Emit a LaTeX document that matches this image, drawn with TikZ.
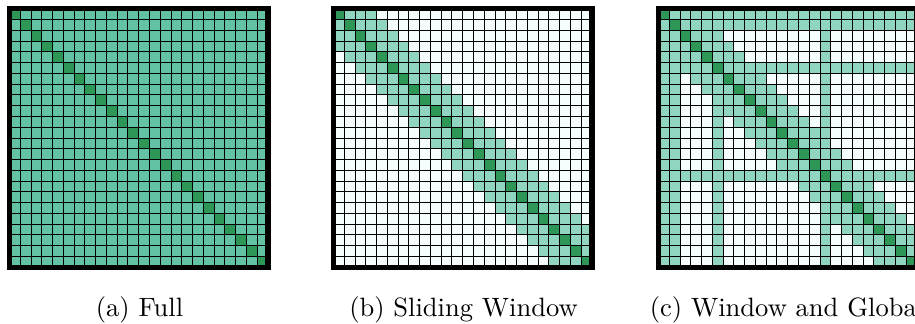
\documentclass[tikz,border=0pt]{standalone}
\usepackage{xcolor}
\usetikzlibrary{positioning}
\definecolor{fullc}{RGB}{99,194,163}
\definecolor{diagc}{RGB}{46,150,86}
\definecolor{winc}{RGB}{143,213,192}
\definecolor{emptyc}{RGB}{245,253,253}
\newcommand{\cellsz}{10.77}
\newcommand{\sidelen}{258.5}

\begin{document}
\begin{tikzpicture}[x=0.377pt,y=-0.377pt,
  cellgrid/.style={line width=0.36pt,black},
  frameline/.style={line width=1.9pt,black},
  subcap/.style={anchor=base,inner sep=0pt}]
\useasboundingbox (0,0) rectangle (915,324);
% (a) full attention
\begin{scope}[shift={(9.5,8.8)}]
\fill[fullc] (0,0) rectangle (\sidelen,\sidelen);
\foreach \r in {0,...,23}
  \fill[diagc] (\r*\cellsz,\r*\cellsz) rectangle ++(\cellsz,\cellsz);
\foreach \k in {1,...,23} {
  \draw[cellgrid] (\k*\cellsz,0) -- (\k*\cellsz,\sidelen);
  \draw[cellgrid] (0,\k*\cellsz) -- (\sidelen,\k*\cellsz);
}
\draw[frameline] (0,0) rectangle (\sidelen,\sidelen);
\end{scope}
% (b) sliding window
\begin{scope}[shift={(333.5,8.8)}]
\fill[emptyc] (0,0) rectangle (\sidelen,\sidelen);
\foreach \r in {0,...,23}
  \foreach \c in {0,...,23} {
    \pgfmathtruncatemacro\band{abs(\r-\c)<=3}
    \ifnum\r=\c \def\cc{diagc}\else\ifnum\band=1 \def\cc{winc}\else\def\cc{emptyc}\fi\fi
    \fill[\cc] (\c*\cellsz,\r*\cellsz) rectangle ++(\cellsz,\cellsz);
  }
\foreach \k in {1,...,23} {
  \draw[cellgrid] (\k*\cellsz,0) -- (\k*\cellsz,\sidelen);
  \draw[cellgrid] (0,\k*\cellsz) -- (\sidelen,\k*\cellsz);
}
\draw[frameline] (0,0) rectangle (\sidelen,\sidelen);
\end{scope}
% (c) window plus global tokens 0,1,5,15
\begin{scope}[shift={(658.5,8.8)}]
\fill[emptyc] (0,0) rectangle (\sidelen,\sidelen);
\foreach \r in {0,...,23}
  \foreach \c in {0,...,23} {
    \pgfmathtruncatemacro\band{(abs(\r-\c)<=3)||(\r<2)||(\r==5)||(\r==15)||(\c<2)||(\c==5)||(\c==15)}
    \ifnum\r=\c \def\cc{diagc}\else\ifnum\band=1 \def\cc{winc}\else\def\cc{emptyc}\fi\fi
    \fill[\cc] (\c*\cellsz,\r*\cellsz) rectangle ++(\cellsz,\cellsz);
  }
\foreach \k in {1,...,23} {
  \draw[cellgrid] (\k*\cellsz,0) -- (\k*\cellsz,\sidelen);
  \draw[cellgrid] (0,\k*\cellsz) -- (\sidelen,\k*\cellsz);
}
\draw[frameline] (0,0) rectangle (\sidelen,\sidelen);
\end{scope}
% captions
\node[subcap] (capfull) at (139.5,316.7) {(a) Full};
\node[subcap] (capslide) at (463.5,316.7) {(b) Sliding Window};
\node[subcap] (capglobal) at (787,316.7) {(c) Window and Global};
\end{tikzpicture}
\end{document}
